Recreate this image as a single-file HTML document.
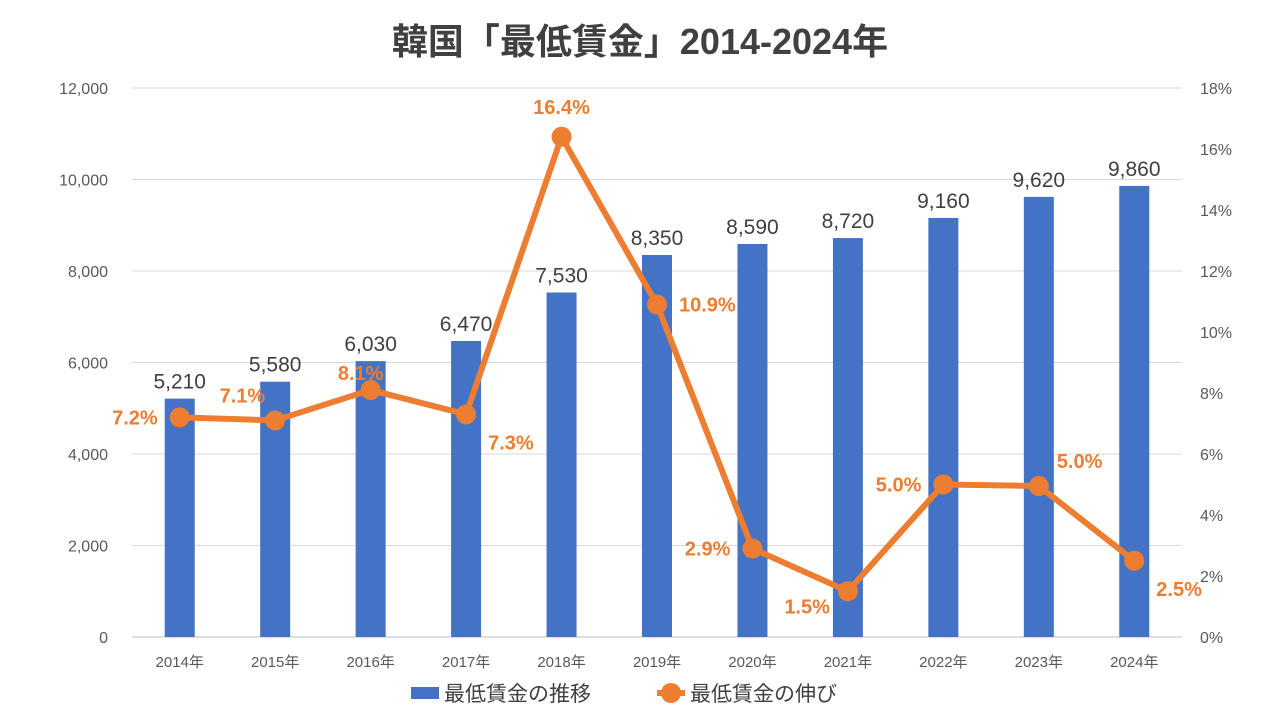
<!DOCTYPE html>
<html><head><meta charset="utf-8"><style>
body{margin:0;background:#fff;width:1280px;height:720px;overflow:hidden;font-family:"Liberation Sans","Noto Sans CJK JP",sans-serif;}
</style></head><body>
<svg id="chart" width="1280" height="720" xmlns="http://www.w3.org/2000/svg" font-family="Liberation Sans, Noto Sans CJK JP, sans-serif">
<text x="640" y="54" text-anchor="middle" font-size="36" font-weight="bold" fill="#404040">韓国「最低賃金」2014-2024年</text>
<g id="grid"></g><g id="bars"></g><g id="line"></g><g id="labels"></g>
<g>
<rect x="411" y="687" width="28" height="12" fill="#4472C4"/>
<text x="444" y="701" font-size="21" fill="#404040">最低賃金の推移</text>
<line x1="657" y1="693" x2="685" y2="693" stroke="#ED7D31" stroke-width="6"/>
<circle cx="671" cy="693" r="10" fill="#ED7D31"/>
<text x="690" y="701" font-size="21" fill="#404040">最低賃金の伸び</text>
</g>
</svg>
<script>
const categories=["2014年","2015年","2016年","2017年","2018年","2019年","2020年","2021年","2022年","2023年","2024年"];
const wages=[5210,5580,6030,6470,7530,8350,8590,8720,9160,9620,9860];
const growth=[7.2,7.1,8.1,7.3,16.4,10.9,2.9,1.5,5.0,4.95,2.5];
const growthLabels=["7.2%","7.1%","8.1%","7.3%","16.4%","10.9%","2.9%","1.5%","5.0%","5.0%","2.5%"];
const leftTicks=[0,2000,4000,6000,8000,10000,12000];
const rightTicks=[0,2,4,6,8,10,12,14,16,18];
const labelSide=["L","UL","UC","DR","U","R","L","DL","L","UR","DR"];
const NS="http://www.w3.org/2000/svg";
const x0=132,x1=1182,yB=637,yT=88;
const step=(x1-x0)/categories.length;
const xs=i=>x0+step*(i+0.5);
const yL=v=>yB-(v/12000)*(yB-yT);
const yR=v=>yB-(v/18)*(yB-yT);
function mk(tag,attrs,parent,text){const e=document.createElementNS(NS,tag);for(const k in attrs)e.setAttribute(k,attrs[k]);if(text!==undefined)e.textContent=text;document.getElementById(parent).appendChild(e);return e;}
leftTicks.forEach(t=>{
 const g=mk("line",{x1:x0,x2:x1,y1:yL(t),y2:yL(t),stroke:t===0?"#BFBFBF":"#D9D9D9","stroke-width":1},"grid");
 
 
 const l=mk("text",{x:108,y:yL(t)+6,"text-anchor":"end","font-size":16,fill:"#595959"},"grid",t.toLocaleString("en-US"));
 
 
});
rightTicks.forEach(t=>{
 const l=mk("text",{x:1200,y:yR(t)+6,"font-size":16,fill:"#595959"},"grid",t+"%");
 
 
});
categories.forEach((c,i)=>{
 const l=mk("text",{x:xs(i),y:667,"text-anchor":"middle","font-size":15,fill:"#595959"},"grid",c);
 
 
 const b=mk("rect",{x:xs(i)-15,y:yL(wages[i]),width:30,height:yB-yL(wages[i]),fill:"#4472C4"},"bars");
 
 
 const v=mk("text",{x:xs(i),y:yL(wages[i])-10,"text-anchor":"middle","font-size":21,fill:"#404040"},"labels",wages[i].toLocaleString("en-US"));
 
 
});
const pts=growth.map((g,i)=>xs(i)+","+yR(g)).join(" ");
const pl=mk("polyline",{points:pts,fill:"none",stroke:"#ED7D31","stroke-width":6,"stroke-linejoin":"round"},"line");


growth.forEach((g,i)=>{
 const c=mk("circle",{cx:xs(i),cy:yR(g),r:10,fill:"#ED7D31"},"line");
 
 
 let x=xs(i),y=yR(g)+7,a="middle";
 const s=labelSide[i];
 if(s==="L"){x-=22;a="end";}
 else if(s==="R"){x+=22;a="start";}
 else if(s==="U"){y-=30;}
 else if(s==="UC"){x-=10;y-=17;}
 else if(s==="UL"){x-=10;y-=25;a="end";}
 else if(s==="UR"){x+=18;y-=25;a="start";}
 else if(s==="DR"){x+=22;y+=28;a="start";}
 else if(s==="DL"){x-=18;y+=15;a="end";}
 const t=mk("text",{x:x,y:y,"text-anchor":a,"font-size":20,"font-weight":"bold",fill:"#ED7D31"},"labels",growthLabels[i]);
 
 
});
</script>
</body></html>
